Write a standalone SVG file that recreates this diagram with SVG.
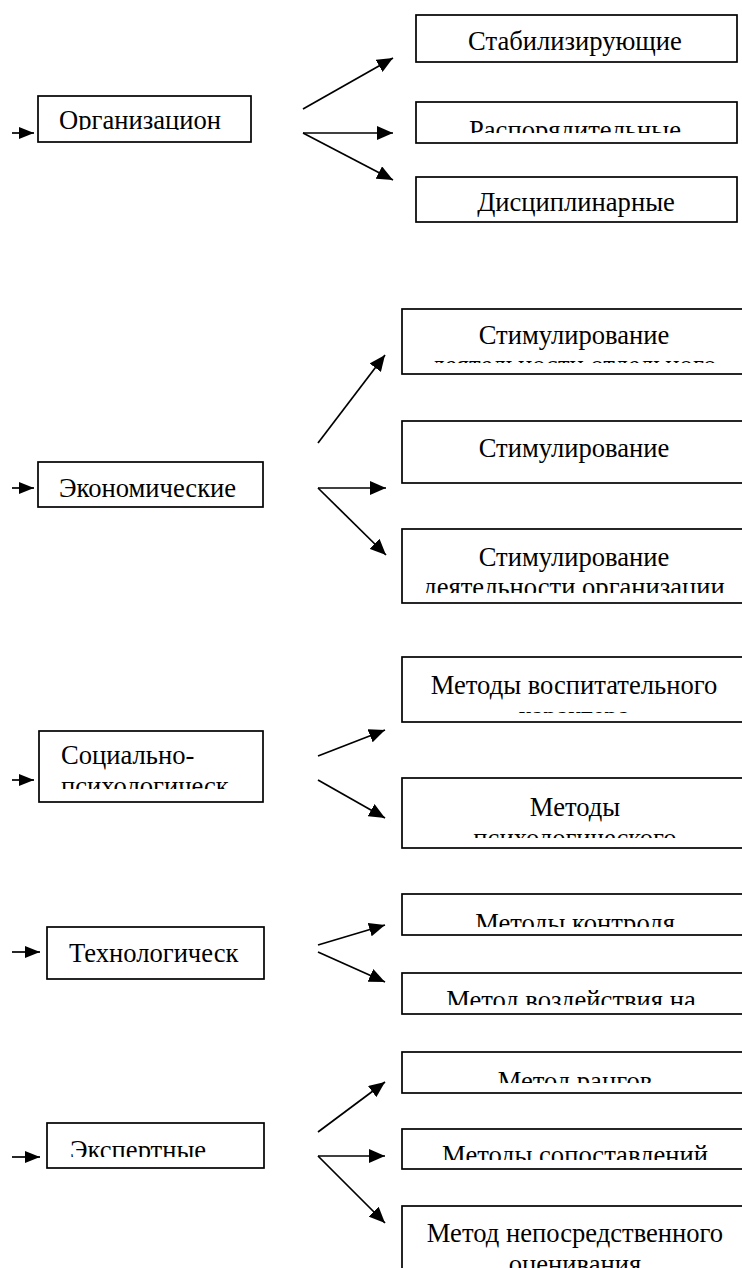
<svg xmlns="http://www.w3.org/2000/svg" width="742" height="1268" viewBox="0 0 742 1268">
<style>
.box{fill:#fff;stroke:#000;stroke-width:1.7}
.t{font-family:"Liberation Serif","Times New Roman",serif;font-size:26.6px;fill:#000}
.c{text-anchor:middle}
.ln{stroke:#000;stroke-width:1.7;fill:none;marker-end:url(#ah)}
</style>
<defs>
<marker id="ah" markerWidth="16" markerHeight="14" refX="16" refY="7" orient="auto" markerUnits="userSpaceOnUse"><path d="M0,0 L16,7 L0,14 z" fill="#000"/></marker>
<marker id="ahs" markerWidth="15" markerHeight="12" refX="15" refY="6" orient="auto" markerUnits="userSpaceOnUse"><path d="M0,0 L15,6 L0,12 z" fill="#000"/></marker>
<clipPath id="c1"><rect x="39" y="97" width="211" height="33"/></clipPath>
<clipPath id="c2"><rect x="417" y="16" width="319" height="45"/></clipPath>
<clipPath id="c3"><rect x="417" y="103" width="319" height="30"/></clipPath>
<clipPath id="c4"><rect x="417" y="178" width="319" height="43"/></clipPath>
<clipPath id="c5"><rect x="39" y="463" width="223" height="43"/></clipPath>
<clipPath id="c6"><rect x="403" y="310" width="345" height="53"/></clipPath>
<clipPath id="c7"><rect x="403" y="422" width="345" height="60"/></clipPath>
<clipPath id="c8"><rect x="403" y="530" width="345" height="63"/></clipPath>
<clipPath id="c9"><rect x="40" y="732" width="222" height="57"/></clipPath>
<clipPath id="c10"><rect x="403" y="658" width="345" height="55"/></clipPath>
<clipPath id="c11"><rect x="403" y="779" width="345" height="59"/></clipPath>
<clipPath id="c12"><rect x="48" y="928" width="215" height="50"/></clipPath>
<clipPath id="c13"><rect x="403" y="895" width="345" height="32"/></clipPath>
<clipPath id="c14"><rect x="403" y="974" width="345" height="31"/></clipPath>
<clipPath id="c15"><rect x="48" y="1124" width="215" height="33"/></clipPath>
<clipPath id="c16"><rect x="403" y="1053" width="345" height="30"/></clipPath>
<clipPath id="c17"><rect x="403" y="1130" width="345" height="30"/></clipPath>
<clipPath id="c18"><rect x="403" y="1207" width="345" height="61"/></clipPath>
</defs>

<g id="connectors">
<line class="ln" style="marker-end:url(#ahs)" x1="12" y1="133" x2="34" y2="133"/>
<line class="ln" x1="303" y1="109" x2="393" y2="58"/>
<line class="ln" x1="303" y1="133" x2="393" y2="133"/>
<line class="ln" x1="303" y1="133" x2="393" y2="180"/>
<line class="ln" style="marker-end:url(#ahs)" x1="12" y1="488" x2="34" y2="488"/>
<line class="ln" x1="318" y1="443" x2="385" y2="355"/>
<line class="ln" x1="318" y1="488" x2="386" y2="488"/>
<line class="ln" x1="318" y1="488" x2="386" y2="555"/>
<line class="ln" style="marker-end:url(#ahs)" x1="12" y1="780" x2="34" y2="780"/>
<line class="ln" x1="318" y1="756" x2="385" y2="730"/>
<line class="ln" x1="318" y1="780" x2="385" y2="818"/>
<line class="ln" style="marker-end:url(#ahs)" x1="12" y1="952" x2="40" y2="952"/>
<line class="ln" x1="318" y1="945" x2="385" y2="925"/>
<line class="ln" x1="318" y1="952" x2="385" y2="982"/>
<line class="ln" style="marker-end:url(#ahs)" x1="12" y1="1157" x2="40" y2="1157"/>
<line class="ln" x1="318" y1="1132" x2="385" y2="1082"/>
<line class="ln" x1="318" y1="1156" x2="385" y2="1156"/>
<line class="ln" x1="318" y1="1156" x2="385" y2="1223"/>
</g>

<g id="n-org"><rect class="box" x="38" y="96" width="213" height="46"/><text class="t" x="59" y="129" clip-path="url(#c1)">Организацион</text></g>
<g id="n-stab"><rect class="box" x="416" y="15" width="321" height="47"/><text class="t c" x="575" y="50" clip-path="url(#c2)">Стабилизирующие</text></g>
<g id="n-rasp"><rect class="box" x="416" y="102" width="321" height="41"/><text class="t c" x="575" y="139" clip-path="url(#c3)">Распорядительные</text></g>
<g id="n-disc"><rect class="box" x="416" y="177" width="321" height="45"/><text class="t c" x="576" y="211" clip-path="url(#c4)">Дисциплинарные</text></g>

<g id="n-econ"><rect class="box" x="38" y="462" width="225" height="45"/><text class="t" x="59" y="497" clip-path="url(#c5)">Экономические</text></g>
<g id="n-stim1"><rect class="box" x="402" y="309" width="350" height="65"/><text class="t c" clip-path="url(#c6)"><tspan x="574" y="344">Стимулирование</tspan><tspan x="574" y="374">деятельности отдельного</tspan></text></g>
<g id="n-stim2"><rect class="box" x="402" y="421" width="350" height="62"/><text class="t c" x="574" y="457" clip-path="url(#c7)">Стимулирование</text></g>
<g id="n-stim3"><rect class="box" x="402" y="529" width="350" height="74"/><text class="t c" clip-path="url(#c8)"><tspan x="574" y="566">Стимулирование</tspan><tspan x="574" y="596">деятельности организации</tspan></text></g>

<g id="n-soc"><rect class="box" x="39" y="731" width="224" height="71"/><text class="t" clip-path="url(#c9)"><tspan x="61" y="764">Социально-</tspan><tspan x="61" y="795">психологическ</tspan></text></g>
<g id="n-vosp"><rect class="box" x="402" y="657" width="350" height="65"/><text class="t c" clip-path="url(#c10)"><tspan x="574" y="694">Методы воспитательного</tspan><tspan x="574" y="725">характера</tspan></text></g>
<g id="n-psy"><rect class="box" x="402" y="778" width="350" height="70"/><text class="t c" clip-path="url(#c11)"><tspan x="575" y="816">Методы</tspan><tspan x="575" y="847">психологического</tspan></text></g>

<g id="n-tech"><rect class="box" x="47" y="927" width="217" height="52"/><text class="t" x="69" y="962" clip-path="url(#c12)">Технологическ</text></g>
<g id="n-kontr"><rect class="box" x="402" y="894" width="350" height="41"/><text class="t c" x="575" y="932" clip-path="url(#c13)">Методы контроля</text></g>
<g id="n-vozd"><rect class="box" x="402" y="973" width="350" height="41"/><text class="t c" x="571" y="1009" clip-path="url(#c14)">Метод воздействия на</text></g>

<g id="n-exp"><rect class="box" x="47" y="1123" width="217" height="45"/><text class="t" x="70" y="1159" clip-path="url(#c15)">Экспертные</text></g>
<g id="n-rang"><rect class="box" x="402" y="1052" width="350" height="41"/><text class="t c" x="575" y="1090" clip-path="url(#c16)">Метод рангов</text></g>
<g id="n-sopost"><rect class="box" x="402" y="1129" width="350" height="40"/><text class="t c" x="575" y="1164" clip-path="url(#c17)">Методы сопоставлений</text></g>
<g id="n-neposr"><rect class="box" x="402" y="1206" width="350" height="100"/><text class="t c" clip-path="url(#c18)"><tspan x="575" y="1242">Метод непосредственного</tspan><tspan x="575" y="1273">оценивания</tspan></text></g>
</svg>
